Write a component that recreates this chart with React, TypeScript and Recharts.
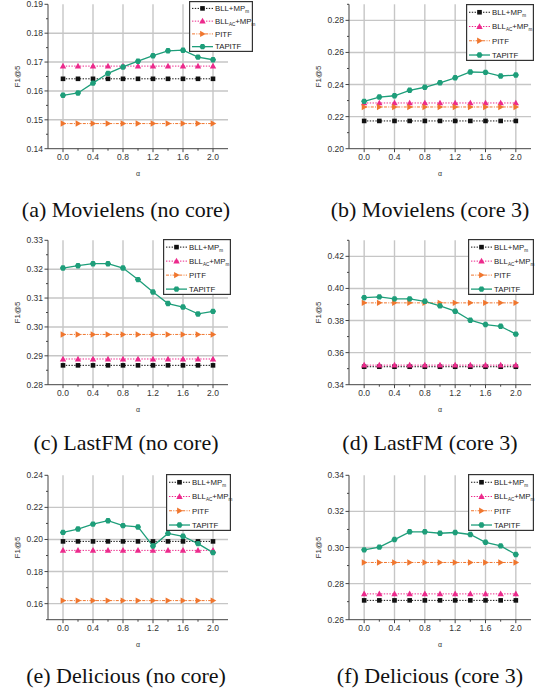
import React from "react";
import { CartesianGrid, Line, LineChart, XAxis, YAxis } from "recharts";

const alphas = [0, 0.2, 0.4, 0.6, 0.8, 1.0, 1.2, 1.4, 1.6, 1.8, 2.0];
const xMajor = [0, 0.4, 0.8, 1.2, 1.6, 2.0];

// (a) Movielens (no core)
const mlNoBll = [0.1642, 0.1642, 0.1642, 0.1642, 0.1642, 0.1642, 0.1642, 0.1642, 0.1642, 0.1642, 0.1642];
const mlNoAc = [0.1686, 0.1686, 0.1686, 0.1686, 0.1686, 0.1686, 0.1686, 0.1686, 0.1686, 0.1686, 0.1686];
const mlNoPitf = [0.1487, 0.1487, 0.1487, 0.1487, 0.1487, 0.1487, 0.1487, 0.1487, 0.1487, 0.1487, 0.1487];
const mlNoTap = [0.1585, 0.1593, 0.1627, 0.1661, 0.1683, 0.1703, 0.1722, 0.1739, 0.1741, 0.1717, 0.1708];

// (b) Movielens (core 3)
const mlC3Bll = [0.2173, 0.2173, 0.2173, 0.2173, 0.2173, 0.2173, 0.2173, 0.2173, 0.2173, 0.2173, 0.2173];
const mlC3Ac = [0.2285, 0.2285, 0.2285, 0.2285, 0.2285, 0.2285, 0.2285, 0.2285, 0.2285, 0.2285, 0.2285];
const mlC3Pitf = [0.226, 0.226, 0.226, 0.226, 0.226, 0.226, 0.226, 0.226, 0.226, 0.226, 0.226];
const mlC3Tap = [0.2295, 0.2322, 0.233, 0.2364, 0.2383, 0.2411, 0.2442, 0.2478, 0.2476, 0.2453, 0.2459];

// (c) LastFM (no core)
const fmNoBll = [0.2867, 0.2867, 0.2867, 0.2867, 0.2867, 0.2867, 0.2867, 0.2867, 0.2867, 0.2867, 0.2867];
const fmNoAc = [0.2889, 0.2889, 0.2889, 0.2889, 0.2889, 0.2889, 0.2889, 0.2889, 0.2889, 0.2889, 0.2889];
const fmNoPitf = [0.2974, 0.2974, 0.2974, 0.2974, 0.2974, 0.2974, 0.2974, 0.2974, 0.2974, 0.2974, 0.2974];
const fmNoTap = [0.3204, 0.3212, 0.3219, 0.3219, 0.3204, 0.3164, 0.3121, 0.3081, 0.3069, 0.3045, 0.3054];

// (d) LastFM (core 3)
const fmC3Bll = [0.3512, 0.3512, 0.3512, 0.3512, 0.3512, 0.3512, 0.3512, 0.3512, 0.3512, 0.3512, 0.3512];
const fmC3Ac = [0.3522, 0.3522, 0.3522, 0.3522, 0.3522, 0.3522, 0.3522, 0.3522, 0.3522, 0.3522, 0.3522];
const fmC3Pitf = [0.391, 0.391, 0.391, 0.391, 0.391, 0.391, 0.391, 0.391, 0.391, 0.391, 0.391];
const fmC3Tap = [0.3943, 0.3947, 0.3935, 0.3935, 0.392, 0.3891, 0.3858, 0.3802, 0.3775, 0.3764, 0.3715];

// (e) Delicious (no core)
const deNoBll = [0.1988, 0.1988, 0.1988, 0.1988, 0.1988, 0.1988, 0.1988, 0.1988, 0.1988, 0.1988, 0.1988];
const deNoAc = [0.1932, 0.1932, 0.1932, 0.1932, 0.1932, 0.1932, 0.1932, 0.1932, 0.1932, 0.1932, 0.1932];
const deNoPitf = [0.1619, 0.1619, 0.1619, 0.1619, 0.1619, 0.1619, 0.1619, 0.1619, 0.1619, 0.1619, 0.1619];
const deNoTap = [0.2044, 0.2065, 0.2096, 0.2117, 0.2086, 0.2078, 0.1959, 0.2038, 0.202, 0.1974, 0.1918];

// (f) Delicious (core 3)
const deC3Bll = [0.2707, 0.2707, 0.2707, 0.2707, 0.2707, 0.2707, 0.2707, 0.2707, 0.2707, 0.2707, 0.2707];
const deC3Ac = [0.2743, 0.2743, 0.2743, 0.2743, 0.2743, 0.2743, 0.2743, 0.2743, 0.2743, 0.2743, 0.2743];
const deC3Pitf = [0.2917, 0.2917, 0.2917, 0.2917, 0.2917, 0.2917, 0.2917, 0.2917, 0.2917, 0.2917, 0.2917];
const deC3Tap = [0.2987, 0.3002, 0.3044, 0.3087, 0.3087, 0.3079, 0.3083, 0.3072, 0.3029, 0.3009, 0.2961];

const captions = [
  "(a) Movielens (no core)",
  "(b) Movielens (core 3)",
  "(c) LastFM (no core)",
  "(d) LastFM (core 3)",
  "(e) Delicious (no core)",
  "(f) Delicious (core 3)",
];
const yDomains = [
  [0.14, 0.19],
  [0.2, 0.29],
  [0.28, 0.33],
  [0.34, 0.43],
  [0.15, 0.24],
  [0.26, 0.34],
];
const yMajors = [
  [0.14, 0.15, 0.16, 0.17, 0.18, 0.19],
  [0.2, 0.22, 0.24, 0.26, 0.28],
  [0.28, 0.29, 0.3, 0.31, 0.32, 0.33],
  [0.34, 0.36, 0.38, 0.4, 0.42],
  [0.16, 0.18, 0.2, 0.22, 0.24],
  [0.26, 0.28, 0.3, 0.32, 0.34],
];
const yMinors = [
  [0.145, 0.155, 0.165, 0.175, 0.185],
  [0.21, 0.23, 0.25, 0.27, 0.29],
  [0.285, 0.295, 0.305, 0.315, 0.325],
  [0.35, 0.37, 0.39, 0.41, 0.43],
  [0.15, 0.17, 0.19, 0.21, 0.23],
  [0.27, 0.29, 0.31, 0.33],
];

const panelData = [
  [mlNoBll, mlNoAc, mlNoPitf, mlNoTap],
  [mlC3Bll, mlC3Ac, mlC3Pitf, mlC3Tap],
  [fmNoBll, fmNoAc, fmNoPitf, fmNoTap],
  [fmC3Bll, fmC3Ac, fmC3Pitf, fmC3Tap],
  [deNoBll, deNoAc, deNoPitf, deNoTap],
  [deC3Bll, deC3Ac, deC3Pitf, deC3Tap],
];

const seriesKeys = ["bll", "ac", "pitf", "tapitf"];
// label pieces: [text, isSubscript]
const seriesLabels: [string, boolean][][] = [
  [["BLL+MP", false], ["m", true]],
  [["BLL", false], ["AC", true], ["+MP", false], ["m", true]],
  [["PITF", false]],
  [["TAPITF", false]],
];
const seriesColors = ["#111111", "#ec2a8c", "#f0762e", "#1e9e7a"];
const seriesDash = ["1.4 1.4", "1.4 1.4", "3 1.3 1 1.3", undefined];
const seriesShapes = ["square", "tri", "triR", "hex"];

// layout
const INK = "#333";
const AXIS = "#444";
const GRID = "#c6c6c6";
const FONT = "'Liberation Sans', Arial, sans-serif";
const ROW_TOP = [0, 236, 471];
const CAPTION_Y = [217, 450, 683];
const PLOT_H = 144.4;
const CHART_H = 185;
const legendBoxes = [
  { x: 189, y: 1, w: 64, h: 51 },
  { x: 466, y: 4, w: 68, h: 57 },
  { x: 163, y: 239, w: 68, h: 56 },
  { x: 468, y: 239, w: 66, h: 56 },
  { x: 166, y: 474, w: 65, h: 57 },
  { x: 468, y: 474, w: 66, h: 57 },
];

function Marker({ shape, cx, cy, color }: { shape: string; cx: number; cy: number; color: string }) {
  if (shape === "square") {
    return <rect x={cx - 2.3} y={cy - 2.3} width={4.6} height={4.6} fill={color} />;
  }
  if (shape === "tri") {
    return (
      <polygon
        points={`${cx},${cy - 3.3} ${cx - 3.2},${cy + 2.4} ${cx + 3.2},${cy + 2.4}`}
        fill={color}
      />
    );
  }
  if (shape === "triR") {
    return (
      <polygon
        points={`${cx + 3.3},${cy} ${cx - 2.4},${cy - 3.2} ${cx - 2.4},${cy + 3.2}`}
        fill={color}
      />
    );
  }
  const r = 3.1;
  const pts = [0, 1, 2, 3, 4, 5]
    .map((k) => {
      const a = (Math.PI / 3) * k;
      return `${cx + r * Math.cos(a)},${cy + r * Math.sin(a)}`;
    })
    .join(" ");
  return <polygon points={pts} fill={color} />;
}

function isIn(list: number[], v: number) {
  return list.some((m) => Math.abs(m - v) < 1e-6);
}

function XTick(props: any) {
  const { x, y, payload } = props;
  const major = isIn(xMajor, payload.value);
  return (
    <g>
      <line x1={x} x2={x} y1={y} y2={y + (major ? 3.5 : 2)} stroke={AXIS} strokeWidth={1} />
      {major && (
        <text x={x} y={y + 11} textAnchor="middle" fontSize={8.5} fill={INK} fontFamily={FONT}>
          {payload.value.toFixed(1)}
        </text>
      )}
    </g>
  );
}

function makeYTick(majors: number[]) {
  return function YTick(props: any) {
    const { x, y, payload } = props;
    const major = isIn(majors, payload.value);
    return (
      <g>
        <line x1={x - (major ? 3.5 : 2)} x2={x} y1={y} y2={y} stroke={AXIS} strokeWidth={1} />
        {major && (
          <text x={x - 5} y={y + 3} textAnchor="end" fontSize={8.5} fill={INK} fontFamily={FONT}>
            {payload.value.toFixed(2)}
          </text>
        )}
      </g>
    );
  };
}

function LegendBox({ i }: { i: number }) {
  const b = legendBoxes[i];
  const rowH = b.h / 4;
  return (
    <svg
      width={b.w}
      height={b.h}
      style={{ position: "absolute", left: b.x, top: b.y, overflow: "visible" }}
    >
      <rect x={0.6} y={0.6} width={b.w - 1.2} height={b.h - 1.2} fill="#fff" stroke="#333" strokeWidth={1.2} />
      {seriesKeys.map((k, s) => {
        const cy = (s + 0.58) * rowH;
        return (
          <g key={k}>
            <line
              x1={3}
              x2={24}
              y1={cy}
              y2={cy}
              stroke={seriesColors[s]}
              strokeWidth={s === 3 ? 1.3 : 1}
              strokeDasharray={seriesDash[s]}
            />
            <Marker shape={seriesShapes[s]} cx={13.5} cy={cy} color={seriesColors[s]} />
            <text x={26} y={cy + 2.8} fontSize={7.8} fill="#222" fontFamily={FONT}>
              {seriesLabels[s].map(([t, sub], j) => (
                <tspan key={j} fontSize={sub ? 4.6 : 7.8} dy={sub ? 2 : j > 0 ? -2 : 0}>
                  {t}
                </tspan>
              ))}
            </text>
          </g>
        );
      })}
    </svg>
  );
}

function Panel({ i }: { i: number }) {
  const col = i % 2;
  const row = Math.floor(i / 2);
  const series = panelData[i];
  const data = alphas.map((a, j) => ({
    a,
    bll: series[0][j],
    ac: series[1][j],
    pitf: series[2][j],
    tapitf: series[3][j],
  }));
  const chartLeft = col === 0 ? 0 : 275;
  const chartW = col === 0 ? 260 : 275;
  const axisW = col === 0 ? 48 : 74;
  const plotRight = col === 0 ? 228 : 531;
  const marginTop = 4.3;
  const xAxisH = 30;
  const majors = yMajors[i];
  const yTicks = [...majors, ...yMinors[i]].sort((p, q) => p - q);
  const gridY = majors.filter((v) => v !== yDomains[i][0] && v !== yDomains[i][1]);
  const YTick = makeYTick(majors);

  return (
    <>
      <div style={{ position: "absolute", left: chartLeft, top: ROW_TOP[row] }}>
        <LineChart
          width={chartW}
          height={CHART_H}
          data={data}
          margin={{
            top: marginTop,
            right: chartLeft + chartW - plotRight,
            left: 0,
            bottom: CHART_H - marginTop - PLOT_H - xAxisH,
          }}
        >
          <CartesianGrid
            stroke={GRID}
            strokeWidth={1.4}
            horizontalValues={gridY}
            verticalValues={xMajor}
          />
          <XAxis
            dataKey="a"
            type="number"
            domain={[-0.2, 2.2]}
            ticks={alphas}
            interval={0}
            height={xAxisH}
            tickSize={0}
            tickMargin={0}
            tickLine={false}
            tick={<XTick />}
            axisLine={{ stroke: AXIS, strokeWidth: 1 }}
            label={{
              value: "α",
              content: ({ viewBox }: any) => (
                <text
                  x={viewBox.x + viewBox.width / 2}
                  y={viewBox.y + 27}
                  textAnchor="middle"
                  fontSize={7}
                  fill={INK}
                  fontFamily={FONT}
                >
                  α
                </text>
              ),
            }}
          />
          <YAxis
            type="number"
            domain={yDomains[i]}
            allowDataOverflow
            ticks={yTicks}
            interval={0}
            width={axisW}
            tickSize={0}
            tickMargin={0}
            tickLine={false}
            tick={<YTick />}
            axisLine={{ stroke: AXIS, strokeWidth: 1 }}
            label={{
              value: "F1@5",
              content: ({ viewBox }: any) => {
                const lx = viewBox.x + viewBox.width - 30.5;
                const ly = viewBox.y + viewBox.height / 2;
                return (
                  <text
                    x={lx}
                    y={ly}
                    transform={`rotate(-90 ${lx} ${ly})`}
                    textAnchor="middle"
                    dominantBaseline="middle"
                    fontSize={8}
                    fill={INK}
                    fontFamily={FONT}
                  >
                    F1@5
                  </text>
                );
              },
            }}
          />
          {seriesKeys.map((k, s) => (
            <Line
              key={k}
              dataKey={k}
              type="linear"
              stroke={seriesColors[s]}
              strokeWidth={s === 3 ? 1.3 : 1}
              strokeDasharray={seriesDash[s]}
              isAnimationActive={false}
              dot={(p: any) => (
                <Marker key={`${k}-${p.index}`} shape={seriesShapes[s]} cx={p.cx} cy={p.cy} color={seriesColors[s]} />
              )}
              activeDot={false}
            />
          ))}
        </LineChart>
      </div>
      <LegendBox i={i} />
      <div
        style={{
          position: "absolute",
          left: col === 0 ? 0 : 292,
          width: col === 0 ? 252 : 276,
          top: CAPTION_Y[row] - 18,
          textAlign: "center",
          fontFamily: "'Liberation Serif', 'Times New Roman', serif",
          fontSize: 22,
          lineHeight: "22px",
          color: "#111",
        }}
      >
        {captions[i]}
      </div>
    </>
  );
}

export default function App() {
  return (
    <div
      style={{
        position: "absolute",
        left: 0,
        top: 0,
        width: 550,
        height: 700,
        background: "#fff",
        overflow: "hidden",
      }}
    >
      {captions.map((c, i) => (
        <Panel key={c} i={i} />
      ))}
    </div>
  );
}
